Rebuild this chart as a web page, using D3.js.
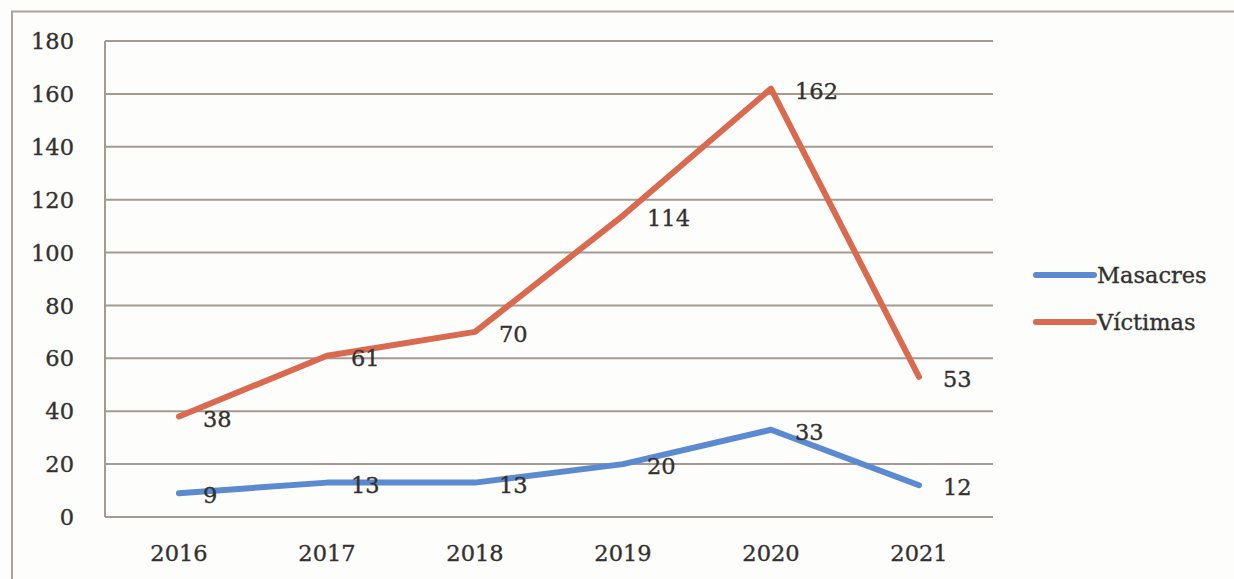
<!DOCTYPE html>
<html><head><meta charset="utf-8">
<script src="https://cdn.jsdelivr.net/npm/d3@7"></script>
<style>
html,body{margin:0;padding:0;background:#fdfdfb;}
svg{display:block;}
text{font-family:"DejaVu Serif",serif;fill:#33312f;stroke:#33312f;stroke-width:0.35px;font-size:22.5px;}
</style></head><body>
<svg id="c" width="1234" height="579"></svg>
<script>
const years = ["2016","2017","2018","2019","2020","2021"];
const masacres = [9,13,13,20,33,12];
const victimas = [38,61,70,114,162,53];
const yTicks = [0,20,40,60,80,100,120,140,160,180];
const seriesNames = ["Masacres","Víctimas"];
const seriesColors = ["#5b8ad0","#d96a50"];

(function(){
const svg = d3.select("#c");
const W=1234,H=579;
svg.append("rect").attr("x",0).attr("y",0).attr("width",W).attr("height",H).attr("fill","#fdfdfb");
svg.append("rect").attr("x",12).attr("y",11.5).attr("width",1240).attr("height",600)
  .attr("fill","none").attr("stroke","#aaa49b").attr("stroke-width",2);

const pL=105,pR=993,pT=41,pB=517;
const x = d3.scaleBand().domain(years).range([pL,pR]);
const y = d3.scaleLinear().domain([0,180]).range([pB,pT]);

svg.append("g").selectAll("line").data(yTicks).join("line")
  .attr("x1",pL).attr("x2",pR).attr("y1",d=>y(d)).attr("y2",d=>y(d))
  .attr("stroke","#a39b92").attr("stroke-width",2);
svg.append("line").attr("x1",pL).attr("x2",pL).attr("y1",pT).attr("y2",pB)
  .attr("stroke","#a39b92").attr("stroke-width",2);

svg.append("g").selectAll("text").data(yTicks).join("text")
  .attr("x",74).attr("y",d=>y(d)).attr("dy","0.36em").attr("text-anchor","end")
  .text(d=>d);
svg.append("g").selectAll("text").data(years).join("text")
  .attr("x",d=>x(d)+x.bandwidth()/2).attr("y",553).attr("dy","0.36em").attr("text-anchor","middle")
  .text(d=>d);

const cx = d=>x(d)+x.bandwidth()/2;
const line = d3.line().x((d,i)=>cx(years[i])).y(d=>y(d));
[masacres,victimas].forEach((s,k)=>{
  svg.append("path").datum(s).attr("d",line).attr("fill","none")
    .attr("stroke",seriesColors[k]).attr("stroke-width",6)
    .attr("stroke-linejoin","round").attr("stroke-linecap","round");
});
[masacres,victimas].forEach((s,k)=>{
  svg.append("g").selectAll("text").data(s).join("text")
    .attr("x",(d,i)=>cx(years[i])+24).attr("y",d=>y(d)+2).attr("dy","0.36em")
    .text(d=>d);
});

const lg = svg.append("g");
seriesNames.forEach((n,k)=>{
  const ly = 275 + k*47;
  lg.append("line").attr("x1",1036).attr("x2",1094).attr("y1",ly).attr("y2",ly)
    .attr("stroke",seriesColors[k]).attr("stroke-width",6).attr("stroke-linecap","round");
  lg.append("text").attr("x",1097).attr("y",ly).attr("dy","0.36em")
    .text(n);
});
})();
</script></body></html>
